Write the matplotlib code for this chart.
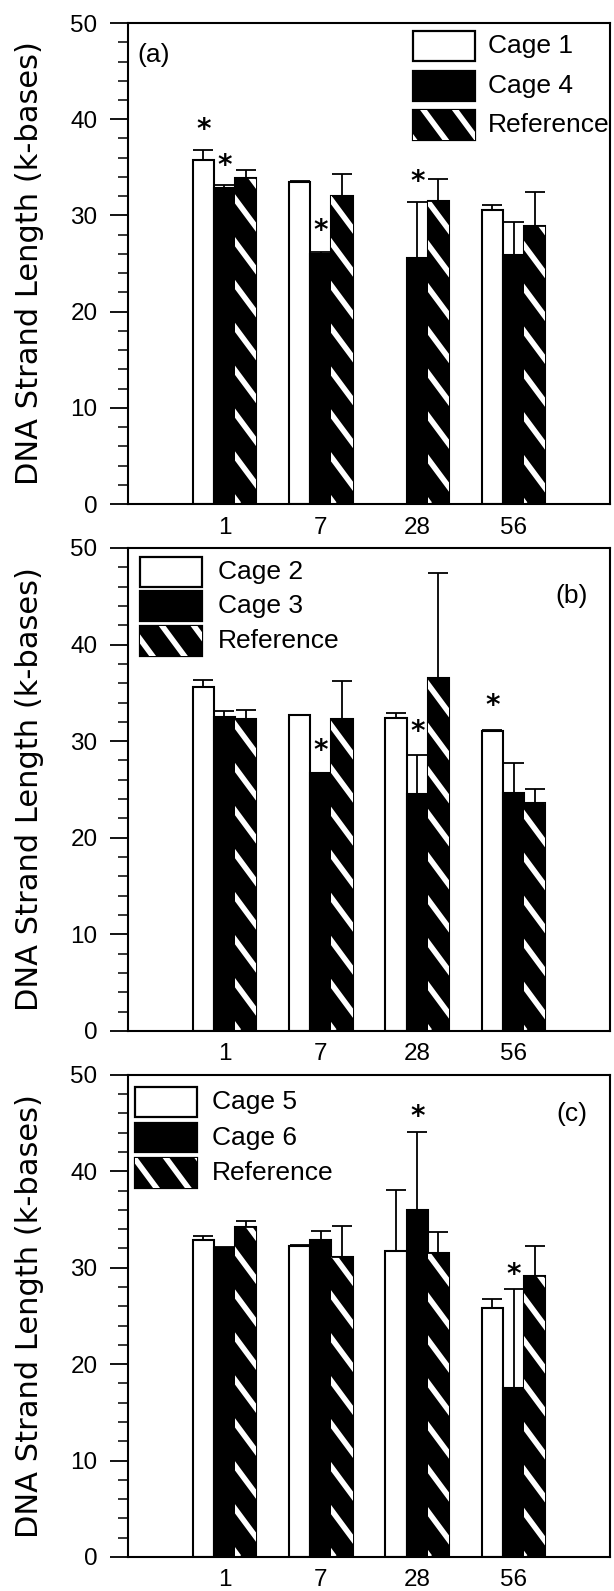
import numpy as np
import matplotlib
matplotlib.use('Agg')
import matplotlib.pyplot as plt
from matplotlib.patches import Rectangle
from matplotlib.collections import LineCollection
from matplotlib.ticker import MultipleLocator

plt.rcParams['font.family'] = ['Liberation Sans', 'DejaVu Sans']

days = ['1', '7', '28', '56']
nan = np.nan

# panel (a)
labels_a = ['Cage 1', 'Cage 4', 'Reference']
cage1 = [35.8, 33.5, nan, 30.6]
cage1_err = [1.0, 0.1, 0.0, 0.45]
cage4 = [32.9, 26.0, 25.6, 25.9]
cage4_err = [0.3, 0.15, 5.8, 3.4]
ref_a = [33.9, 32.0, 31.5, 28.9]
ref_a_err = [0.8, 2.3, 2.3, 3.5]
stars_a = [(0, 0, 39.7), (0, 1, 36.0), (1, 1, 29.2), (2, 1, 34.3)]

# panel (b)
labels_b = ['Cage 2', 'Cage 3', 'Reference']
cage2 = [35.6, 32.7, 32.4, 31.1]
cage2_err = [0.7, 0.05, 0.5, 0.1]
cage3 = [32.5, 26.7, 24.5, 24.6]
cage3_err = [0.6, 0.05, 4.1, 3.1]
ref_b = [32.3, 32.3, 36.5, 23.6]
ref_b_err = [0.95, 3.9, 10.9, 1.45]
stars_b = [(1, 1, 29.8), (2, 1, 31.8), (3, 0, 34.5)]

# panel (c)
labels_c = ['Cage 5', 'Cage 6', 'Reference']
cage5 = [32.9, 32.3, 31.7, 25.8]
cage5_err = [0.4, 0.1, 6.4, 1.0]
cage6 = [32.0, 32.9, 36.0, 17.5]
cage6_err = [0.15, 0.9, 8.1, 10.3]
ref_c = [34.2, 31.1, 31.5, 29.1]
ref_c_err = [0.6, 3.2, 2.25, 3.2]
stars_c = [(2, 1, 46.5), (3, 1, 30.1)]

panels = [
    dict(tag='(a)', labels=labels_a, vals=[cage1, cage4, ref_a],
         errs=[cage1_err, cage4_err, ref_a_err], stars=stars_a,
         box=[0.2085, 0.6832, 0.785, 0.3023],
         leg=(0.591, 0.983, 0.082), leg_text=0.747, tag_pos=(0.019, 0.933, 'left')),
    dict(tag='(b)', labels=labels_b, vals=[cage2, cage3, ref_b],
         errs=[cage2_err, cage3_err, ref_b_err], stars=stars_b,
         box=[0.2085, 0.3520, 0.785, 0.3036],
         leg=(0.025, 0.981, 0.071), leg_text=0.187, tag_pos=(0.954, 0.900, 'right')),
    dict(tag='(c)', labels=labels_c, vals=[cage5, cage6, ref_c],
         errs=[cage5_err, cage6_err, ref_c_err], stars=stars_c,
         box=[0.2085, 0.0214, 0.785, 0.3030],
         leg=(0.0145, 0.975, 0.074), leg_text=0.174, tag_pos=(0.954, 0.919, 'right')),
]

bw = 0.22
x = np.arange(1, len(days) + 1)
offsets = [-bw, 0.0, bw]
faces = ['white', 'black', 'black']


def add_stripes(ax, patch):
    # sparse white diagonal stripes, clipped to the patch
    cs = np.arange(-0.1, 1.9, 0.066)
    segs = [[(c, 0.0), (c - 1 / 1.35, 1.0)] for c in cs]
    lc = LineCollection(segs, colors='white', linewidths=4.0,
                        transform=ax.transAxes, zorder=patch.get_zorder() + 0.1)
    ax.add_collection(lc, autolim=False)
    lc.set_clip_path(patch)


fig = plt.figure(figsize=(6.14, 15.91), dpi=100)

for p in panels:
    ax = fig.add_axes(p['box'])
    for k in range(3):
        xs = x + offsets[k]
        bars = ax.bar(xs, p['vals'][k], bw, color=faces[k], edgecolor='black',
                      linewidth=1.5, zorder=2)
        ax.errorbar(xs, p['vals'][k], yerr=[np.zeros(len(days)), p['errs'][k]],
                    fmt='none', ecolor='black', elinewidth=1.3, capsize=7,
                    capthick=1.3, zorder=3)
        if k == 2:
            for b in bars:
                add_stripes(ax, b)

    for g, s, yv in p['stars']:
        ax.annotate('*', (x[g] + offsets[s], yv), xytext=(0, -6),
                    textcoords='offset points', ha='center', va='center',
                    fontsize=20, fontweight='bold', family='DejaVu Sans', zorder=5)

    # legend drawn by hand
    lx, ly, pitch = p['leg']
    pw, ph = 0.128, 0.062
    for k in range(3):
        top = ly - k * pitch
        r = Rectangle((lx, top - ph), pw, ph, transform=ax.transAxes,
                      facecolor=faces[k], edgecolor='black', linewidth=1.6, zorder=4)
        ax.add_patch(r)
        if k == 2:
            add_stripes(ax, r)
        ax.text(p['leg_text'], top - ph / 2, p['labels'][k], transform=ax.transAxes,
                fontsize=19, va='center', ha='left')

    tx, ty, tha = p['tag_pos']
    ax.text(tx, ty, p['tag'], transform=ax.transAxes, fontsize=19,
            ha=tha, va='center')

    ax.set_xlim(0, 5)
    ax.set_ylim(0, 50)
    ax.set_xticks(x)
    ax.set_xticklabels(days)
    ax.set_yticks(range(0, 51, 10))
    ax.yaxis.set_minor_locator(MultipleLocator(2))
    ax.tick_params(axis='y', which='major', direction='out', length=13, width=1.3,
                   labelsize=17.5, pad=9)
    ax.tick_params(axis='y', which='minor', direction='out', length=7, width=1.1)
    ax.tick_params(axis='x', length=0, labelsize=17.5, pad=9)
    for sp in ax.spines.values():
        sp.set_linewidth(1.5)
    ax.set_ylabel('DNA Strand Length (k-bases)', fontsize=22, family='DejaVu Sans')
    ax.yaxis.set_label_coords(-0.175, 0.5)

fig.savefig('out.png', dpi=100)
